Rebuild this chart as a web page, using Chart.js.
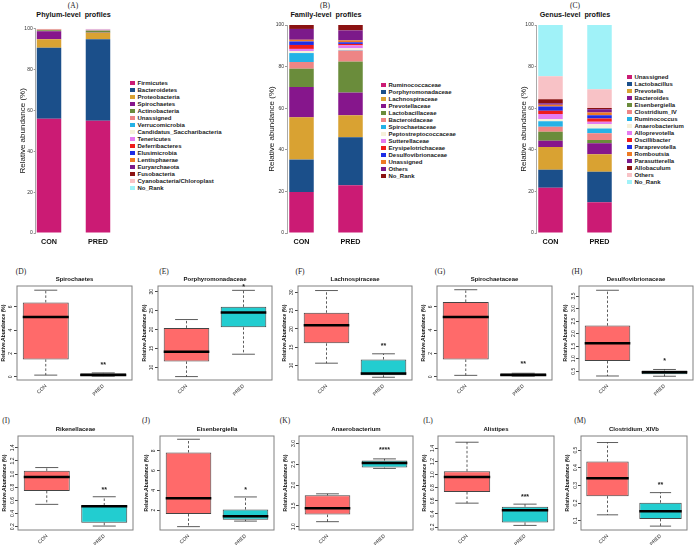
<!DOCTYPE html>
<html>
<head>
<meta charset="utf-8">
<title>Gut microbiota profiles, CON vs PRED</title>
<script src="https://cdn.jsdelivr.net/npm/chart.js@4.4.1/dist/chart.umd.min.js"></script>
<style>
  body { margin: 0; background: #fff; }
  #page { position: relative; width: 696px; height: 545px; overflow: hidden; font-family: "Liberation Sans", Arial, sans-serif; }
  #page canvas { position: absolute; }
  .tag { position: absolute; transform: translate(-50%, -50%); font: 7.5px "Liberation Serif", serif; color: #222; white-space: pre; }
  .head { position: absolute; transform: translate(-50%, -50%); font: bold 7.2px "Liberation Sans", Arial, sans-serif; color: #111; white-space: pre; }
  .legend { position: absolute; font: bold 6px "Liberation Sans", Arial, sans-serif; color: #222; }
  .key { height: 7px; line-height: 7px; display: flex; align-items: center; white-space: nowrap; }
  .key .sw { width: 5px; height: 4px; margin-right: 3px; flex: none; }
</style>
</head>
<body>
<div id="page">
  <div class="tag" style="left:73px;top:5px">(A)</div>
  <div class="head" style="left:73.5px;top:14px">Phylum-level  profiles</div>
  <div class="tag" style="left:325px;top:5px">(B)</div>
  <div class="head" style="left:326px;top:14px">Family-level  profiles</div>
  <div class="tag" style="left:575px;top:5px">(C)</div>
  <div class="head" style="left:575px;top:14px">Genus-level  profiles</div>
  <div class="legend" id="legA" style="left:129.5px;top:79.5px"></div>
  <div class="legend" id="legB" style="left:380.5px;top:81.5px"></div>
  <div class="legend" id="legC" style="left:626.5px;top:73.5px"></div>

  <div class="tag" style="left:21px;top:271px">(D)</div>
  <div class="tag" style="left:164px;top:271px">(E)</div>
  <div class="tag" style="left:300px;top:271px">(F)</div>
  <div class="tag" style="left:440px;top:271px">(G)</div>
  <div class="tag" style="left:577px;top:271px">(H)</div>
  <div class="tag" style="left:6px;top:420px">(I)</div>
  <div class="tag" style="left:146px;top:420px">(J)</div>
  <div class="tag" style="left:285px;top:420px">(K)</div>
  <div class="tag" style="left:428px;top:420px">(L)</div>
  <div class="tag" style="left:580px;top:420px">(M)</div>
</div>
<script>
Chart.defaults.font.family = '"Liberation Sans", Arial, sans-serif';
Chart.defaults.color = '#222';

const groups = ['CON', 'PRED'];

// relative abundance (%), bottom of the stack first
const phylumNames = ['Firmicutes', 'Bacteroidetes', 'Proteobacteria', 'Spirochaetes', 'Actinobacteria', 'Unassigned', 'Verrucomicrobia', 'Candidatus_Saccharibacteria', 'Tenericutes', 'Deferribacteres', 'Elusimicrobia', 'Lentisphaerae', 'Euryarchaeota', 'Fusobacteria', 'Cyanobacteria/Chloroplast', 'No_Rank'];
const phylumCon = [55.9, 34.8, 4.1, 4.0, 0.4, 0.15, 0.05, 0.05, 0.05, 0.05, 0.02, 0.03, 0.05, 0.02, 0.3, 0.03];
const phylumPred = [54.9, 39.9, 3.2, 0.2, 0.8, 0.3, 0.1, 0.1, 0.05, 0.05, 0.02, 0.03, 0.05, 0.02, 0.25, 0.03];

const familyNames = ['Ruminococcaceae', 'Porphyromonadaceae', 'Lachnospiraceae', 'Prevotellaceae', 'Lactobacillaceae', 'Bacteroidaceae', 'Spirochaetaceae', 'Peptostreptococcaceae', 'Sutterellaceae', 'Erysipelotrichaceae', 'Desulfovibrionaceae', 'Unassigned', 'Others', 'No_Rank'];
const familyCon = [19.7, 15.6, 20.3, 14.6, 8.8, 3.2, 4.3, 1.0, 1.0, 1.9, 1.7, 0.8, 5.2, 1.9];
const familyPred = [22.9, 23.1, 10.6, 10.9, 14.9, 5.3, 0.2, 0.9, 1.4, 0.7, 0.8, 0.9, 4.8, 2.6];

const genusNames = ['Unassigned', 'Lactobacillus', 'Prevotella', 'Bacteroides', 'Eisenbergiella', 'Clostridium_IV', 'Ruminococcus', 'Anaerobacterium', 'Alloprevotella', 'Oscillibacter', 'Paraprevotella', 'Romboutsia', 'Parasutterella', 'Allobaculum', 'Others', 'No_Rank'];
const genusCon = [21.7, 8.7, 10.9, 3.1, 4.3, 2.4, 2.6, 1.1, 2.4, 1.6, 2.0, 0.8, 0.8, 1.9, 11.1, 24.6];
const genusPred = [14.8, 14.6, 8.5, 5.2, 1.6, 3.2, 2.3, 2.2, 1.1, 1.6, 1.5, 1.3, 1.6, 0.6, 9.0, 30.9];

// box plots: [min, Q1, median, Q3, max] per group
const boxTitles = ['Spirochaetes', 'Porphyromonadaceae', 'Lachnospiraceae', 'Spirochaetaceae', 'Desulfovibrionaceae', 'Rikenellaceae', 'Eisenbergiella', 'Anaerobacterium', 'Alistipes', 'Clostridium_XIVb'];
const boxCon = [
  [0.14, 1.49, 5.13, 6.39, 7.44],
  [7.6, 11.6, 14.16, 20.44, 22.65],
  [10.64, 16.05, 21.0, 24.4, 30.46],
  [0.12, 1.48, 5.13, 6.43, 7.48],
  [0.31, 0.905, 1.62, 2.32, 3.73],
  [0.54, 0.745, 0.955, 1.05, 1.10],
  [0.34, 1.62, 3.2, 7.83, 9.17],
  [1.12, 1.29, 1.44, 1.755, 1.79],
  [0.565, 0.735, 0.965, 1.05, 1.495],
  [0.133, 0.239, 0.341, 0.435, 0.543]
];
const boxPred = [
  [0.05, 0.07, 0.14, 0.30, 0.33],
  [13.5, 20.6, 24.5, 26.0, 30.35],
  [6.8, 7.34, 7.8, 11.65, 13.2],
  [0.05, 0.06, 0.14, 0.29, 0.30],
  [0.30, 0.38, 0.46, 0.53, 0.57],
  [0.21, 0.26, 0.513, 0.523, 0.656],
  [0.9, 1.03, 1.38, 2.07, 3.34],
  [2.40, 2.42, 2.53, 2.59, 2.63],
  [0.225, 0.27, 0.455, 0.51, 0.55],
  [0.069, 0.11, 0.154, 0.202, 0.259]
];
const boxStars = ['**', '*', '**', '**', '*', '**', '*', '****', '***', '**'];
const boxStarAt = [1.04, 31.1, 15.2, 1.07, 0.9, 0.76, 4.07, 2.83, 0.665, 0.30];
const boxLimits = [[-0.28, 7.8], [6.7, 31.5], [6.05, 31.7], [-0.28, 7.8], [0.15, 3.9], [0.15, 1.58], [0, 9.5], [0.92, 3.18], [0.155, 1.59], [0.047, 0.58]];
const boxTickLabels = [
  ['0', '2', '4', '6'],
  ['10', '15', '20', '25', '30'],
  ['10', '15', '20', '25', '30'],
  ['0', '2', '4', '6'],
  ['0.5', '1.0', '1.5', '2.0', '2.5', '3.0', '3.5'],
  ['0.2', '0.4', '0.6', '0.8', '1.0', '1.2', '1.4'],
  ['2', '4', '6', '8'],
  ['1.0', '1.5', '2.0', '2.5', '3.0'],
  ['0.2', '0.4', '0.6', '0.8', '1.0', '1.2', '1.4'],
  ['0.1', '0.2', '0.3', '0.4', '0.5']
];

// colours
const palette = ['#CB1B74', '#1B4F8A', '#D9A232', '#86168C', '#6A8C3B', '#EE8585', '#24B2E6', '#F6F0DA', '#E57CF0', '#EE1C1C', '#1C2CE6', '#EE7A24', '#7C1A8A', '#8B1212', '#F8C2C6', '#A0F2F8'];
const conFill = '#FF6A6A';
const predFill = '#22CDD0';

// layout of the three stacked panels (pixels inside each 232px canvas)
const stackLayout = [
  { left: 0, axis: 35.7, top: 28.7, right: 129, xmin: 0.7286, xmax: 2.633, titlePad: 18.2, legend: 'legA' },
  { left: 232, axis: 55, top: 25, right: 148, xmin: 0.704, xmax: 2.602, titlePad: 35.2, legend: 'legB' },
  { left: 464, axis: 72.7, top: 25, right: 162, xmin: 0.7184, xmax: 2.541, titlePad: 54.5, legend: 'legC' }
];
const stackWidth = 232, stackHeight = 258, stackBottom = 233;

// layout of the box plot frames
const boxFrames = [[17, 132], [158, 272], [298, 412], [437, 552], [579, 693], [18, 133], [160, 274], [299, 413], [438, 554], [581, 687]];
const rowTops = [268, 416], rowHeights = [132, 129];
const frameTops = [286, 436], frameBottoms = [380, 530];

const page = document.getElementById('page');
function addCanvas(x, y, w, h) {
  const c = document.createElement('canvas');
  c.width = w; c.height = h;
  c.style.left = x + 'px'; c.style.top = y + 'px';
  page.appendChild(c);
  return c;
}

// legend written as HTML next to the canvas, built from the chart's own legend items
const htmlLegend = {
  id: 'htmlLegend',
  afterUpdate(chart, args, opts) {
    const box = document.getElementById(opts.containerID);
    box.innerHTML = '';
    chart.options.plugins.legend.labels.generateLabels(chart).forEach(item => {
      const row = document.createElement('div');
      row.className = 'key';
      const sw = document.createElement('span');
      sw.className = 'sw';
      sw.style.background = item.fillStyle;
      const tx = document.createElement('span');
      tx.textContent = item.text;
      row.append(sw, tx);
      box.appendChild(row);
    });
  }
};

function stackedBars(p, names, con, pred) {
  const values = [con, pred];
  return new Chart(addCanvas(p.left, 0, stackWidth, stackHeight), {
    type: 'bar',
    data: {
      datasets: names.map((name, k) => ({
        label: name,
        data: groups.map((g, i) => ({ x: i + 1, y: values[i][k] })),
        backgroundColor: palette[k],
        borderWidth: 0,
        categoryPercentage: 1,
        barPercentage: 0.5
      }))
    },
    options: {
      responsive: false,
      animation: false,
      events: [],
      layout: { padding: { left: 0, top: p.top, right: stackWidth - p.right, bottom: 0 } },
      plugins: {
        tooltip: { enabled: false },
        legend: { display: false },
        htmlLegend: { containerID: p.legend }
      },
      scales: {
        x: {
          type: 'linear',
          min: p.xmin,
          max: p.xmax,
          offset: false,
          stacked: true,
          grid: { display: false, drawTicks: false, tickLength: 0 },
          border: { display: false },
          afterBuildTicks: s => { s.ticks = groups.map((g, i) => ({ value: i + 1 })); },
          ticks: { callback: (v, i) => groups[i], color: '#111', font: { size: 7.2, weight: 'bold' }, padding: 5, maxRotation: 0, autoSkip: false },
          afterFit: s => { s.height = stackHeight - stackBottom; }
        },
        y: {
          stacked: true,
          min: 0,
          max: 100,
          grid: { drawOnChartArea: false, tickLength: 2, color: '#999' },
          border: { color: '#aaa' },
          ticks: { stepSize: 20, color: '#333', font: { size: 5 }, padding: 1 },
          title: { display: true, text: 'Relative abundance (%)', color: '#111', font: { size: 8 }, padding: { top: p.titlePad, bottom: 0 } },
          afterFit: s => { s.width = p.axis; }
        }
      }
    },
    plugins: [htmlLegend]
  });
}

stackedBars(stackLayout[0], phylumNames, phylumCon, phylumPred);
stackedBars(stackLayout[1], familyNames, familyCon, familyPred);
stackedBars(stackLayout[2], genusNames, genusCon, genusPred);

// frame round the plot region, like R's box()
const frameBox = {
  id: 'frameBox',
  afterDatasetsDraw(chart) {
    const { ctx, chartArea: a } = chart;
    ctx.save();
    ctx.strokeStyle = '#808080';
    ctx.lineWidth = 1;
    ctx.strokeRect(a.left, a.top, a.width, a.height);
    ctx.restore();
  }
};

// whiskers, caps, median and significance stars
const whiskers = {
  id: 'whiskers',
  afterDatasetsDraw(chart) {
    const ds = chart.data.datasets[0];
    const bars = chart.getDatasetMeta(0).data;
    const y = chart.scales.y;
    const ctx = chart.ctx;
    ctx.save();
    bars.forEach((bar, i) => {
      const [lo, q1, med, q3, hi] = ds.stats[i];
      const half = bar.width / 2, cap = bar.width / 4;
      ctx.strokeStyle = '#333';
      ctx.lineWidth = 0.8;
      ctx.setLineDash([2.5, 2]);
      ctx.beginPath();
      ctx.moveTo(bar.x, y.getPixelForValue(q3));
      ctx.lineTo(bar.x, y.getPixelForValue(hi));
      ctx.moveTo(bar.x, y.getPixelForValue(q1));
      ctx.lineTo(bar.x, y.getPixelForValue(lo));
      ctx.stroke();
      ctx.setLineDash([]);
      ctx.beginPath();
      ctx.moveTo(bar.x - cap, y.getPixelForValue(hi));
      ctx.lineTo(bar.x + cap, y.getPixelForValue(hi));
      ctx.moveTo(bar.x - cap, y.getPixelForValue(lo));
      ctx.lineTo(bar.x + cap, y.getPixelForValue(lo));
      ctx.stroke();
      ctx.strokeStyle = '#000';
      ctx.lineWidth = 2.5;
      ctx.beginPath();
      ctx.moveTo(bar.x - half, y.getPixelForValue(med));
      ctx.lineTo(bar.x + half, y.getPixelForValue(med));
      ctx.stroke();
    });
    ctx.fillStyle = '#222';
    ctx.font = 'bold 7px "Liberation Sans", Arial, sans-serif';
    ctx.textAlign = 'center';
    ctx.textBaseline = 'middle';
    ctx.fillText(ds.star, bars[1].x, y.getPixelForValue(ds.starAt));
    ctx.restore();
  }
};

function boxPanel(i) {
  const row = i < 5 ? 0 : 1;
  const [fl, fr] = boxFrames[i];
  const h = rowHeights[row];
  const areaTop = frameTops[row] - rowTops[row];
  const areaBottom = frameBottoms[row] - rowTops[row];
  const labels = boxTickLabels[i];
  const widest = Math.max(...labels.map(s => s.length)) * 2.6;
  const stats = [boxCon[i], boxPred[i]];
  return new Chart(addCanvas(fl - 20, rowTops[row], fr - fl + 22, h), {
    type: 'bar',
    data: {
      labels: groups,
      datasets: [{
        data: stats.map(s => [s[1], s[3]]),
        stats: stats,
        star: boxStars[i],
        starAt: boxStarAt[i],
        backgroundColor: [conFill, predFill],
        borderColor: '#444',
        borderWidth: 1,
        borderSkipped: false,
        categoryPercentage: 1,
        barPercentage: 0.8
      }]
    },
    options: {
      responsive: false,
      animation: false,
      events: [],
      layout: { padding: { left: 0, right: 2, top: 0, bottom: 0 } },
      plugins: {
        legend: { display: false },
        tooltip: { enabled: false },
        title: {
          display: true,
          text: boxTitles[i],
          fullSize: false,
          color: '#111',
          font: { size: 6, weight: 'bold' },
          padding: { top: areaTop - 10.1, bottom: 2.9 }
        }
      },
      scales: {
        x: {
          grid: { display: false, drawTicks: false, tickLength: 0 },
          border: { display: false },
          ticks: { color: '#222', font: { size: 5 }, minRotation: 45, maxRotation: 45, padding: 3 },
          afterFit: s => { s.height = h - areaBottom; }
        },
        y: {
          min: boxLimits[i][0],
          max: boxLimits[i][1],
          grid: { drawOnChartArea: false, tickLength: 3, color: '#444' },
          border: { display: false },
          afterBuildTicks: s => { s.ticks = labels.map(v => ({ value: Number(v) })); },
          ticks: {
            callback: (v, k) => labels[k],
            autoSkip: false,
            minRotation: 90,
            maxRotation: 90,
            crossAlign: 'center',
            padding: 3 - widest / 2,
            color: '#222',
            font: { size: 5 }
          },
          title: { display: true, text: 'Relative.Abundance (%)', color: '#111', font: { size: 5, weight: 'bold' }, padding: { top: 4, bottom: 0 } },
          afterFit: s => { s.width = 20; }
        }
      }
    },
    plugins: [frameBox, whiskers]
  });
}

boxTitles.forEach((t, i) => boxPanel(i));
</script>
</body>
</html>
